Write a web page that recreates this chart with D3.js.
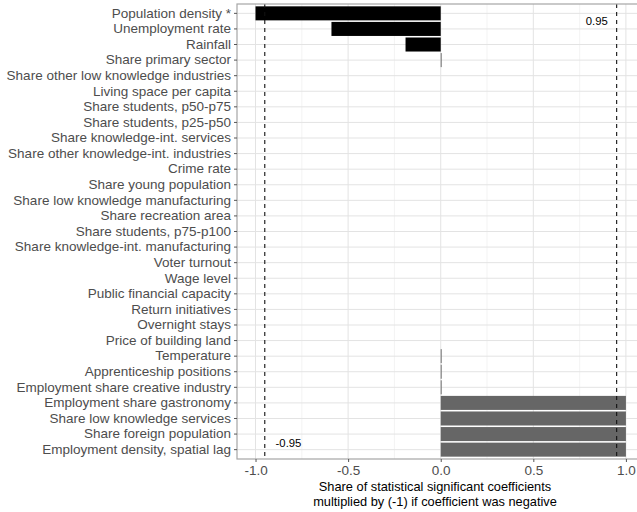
<!DOCTYPE html>
<html>
<head>
<meta charset="utf-8">
<script src="https://cdn.jsdelivr.net/npm/d3@7"></script>
<style>
  html, body { margin: 0; padding: 0; background: #fff; }
  svg { display: block; font-family: "Liberation Sans", Arial, sans-serif; }
</style>
</head>
<body>
<svg id="chart" width="637" height="512"></svg>
<script>
// ---- data ----
const categories = [
  "Population density *",
  "Unemployment rate",
  "Rainfall",
  "Share primary sector",
  "Share other low knowledge industries",
  "Living space per capita",
  "Share students, p50-p75",
  "Share students, p25-p50",
  "Share knowledge-int. services",
  "Share other knowledge-int. industries",
  "Crime rate",
  "Share young population",
  "Share low knowledge manufacturing",
  "Share recreation area",
  "Share students, p75-p100",
  "Share knowledge-int. manufacturing",
  "Voter turnout",
  "Wage level",
  "Public financial capacity",
  "Return initiatives",
  "Overnight stays",
  "Price of building land",
  "Temperature",
  "Apprenticeship positions",
  "Employment share creative industry",
  "Employment share gastronomy",
  "Share low knowledge services",
  "Share foreign population",
  "Employment density, spatial lag"
];
const values = [
  -1.0, -0.59, -0.19, 0.005,
  0, 0, 0, 0, 0, 0, 0, 0, 0, 0, 0, 0, 0, 0, 0, 0, 0, 0,
  0.005, 0.005, 0.005,
  1.0, 1.0, 1.0, 1.0
];
const xTicks = [-1.0, -0.5, 0.0, 0.5, 1.0];
const xMinorTicks = [-0.75, -0.25, 0.25, 0.75];
const thresholds = [-0.95, 0.95];
const annotations = [
  { label: "0.95",  x: 0.843, row: 0.52 },
  { label: "-0.95", x: -0.822, row: 27.6 }
];
const axisTitle = ["Share of statistical significant coefficients",
                   "multiplied by (-1) if coefficient was negative"];

// ---- layout ----
const W = 637, H = 512;
const panel = { left: 237, top: 4, bottom: 459 };
const svg = d3.select("#chart");
svg.append("rect").attr("width", W).attr("height", H).attr("fill", "#fff");

const x = d3.scaleLinear().domain([-1.1, 1.1]).range([panel.left, panel.left + (2.2 * 185.2)]);
const y = d3.scaleBand().domain(categories).range([panel.top, panel.bottom])
  .paddingInner(0.1).paddingOuter(0.15);
const yc = i => y(categories[0]) + y.bandwidth() / 2 + i * y.step();

const panelRight = x.range()[1];

// grid
const g = svg.append("g");
g.selectAll("line.minor").data(xMinorTicks).join("line")
  .attr("x1", d => x(d)).attr("x2", d => x(d))
  .attr("y1", panel.top).attr("y2", panel.bottom)
  .attr("stroke", "#efefef").attr("stroke-width", 0.7);
g.selectAll("line.hgrid").data(categories).join("line")
  .attr("x1", panel.left).attr("x2", panelRight)
  .attr("y1", d => y(d) + y.bandwidth() / 2).attr("y2", d => y(d) + y.bandwidth() / 2)
  .attr("stroke", "#e3e3e3").attr("stroke-width", 1);
g.selectAll("line.vgrid").data(xTicks).join("line")
  .attr("x1", d => x(d)).attr("x2", d => x(d))
  .attr("y1", panel.top).attr("y2", panel.bottom)
  .attr("stroke", "#e3e3e3").attr("stroke-width", 1);

// bars
svg.append("g").selectAll("rect").data(categories).join("rect")
  .attr("x", (d, i) => Math.min(x(0), x(values[i])))
  .attr("width", (d, i) => Math.abs(x(values[i]) - x(0)))
  .attr("y", d => y(d))
  .attr("height", y.bandwidth())
  .attr("fill", (d, i) => values[i] < 0 ? "#000" : "#666");

// threshold lines
svg.append("g").selectAll("line").data(thresholds).join("line")
  .attr("x1", d => x(d)).attr("x2", d => x(d))
  .attr("y1", panel.top).attr("y2", panel.bottom)
  .attr("stroke", "#111").attr("stroke-width", 1.1)
  .attr("stroke-dasharray", "4,4");

// annotations
svg.append("g").selectAll("text").data(annotations).join("text")
  .attr("x", d => x(d.x)).attr("y", d => yc(d.row))
  .attr("dy", "0.35em")
  .attr("text-anchor", "middle")
  .attr("font-size", "11.3px").attr("fill", "#000")
  .text(d => d.label);

// panel border
svg.append("rect")
  .attr("x", panel.left).attr("y", panel.top)
  .attr("width", panelRight - panel.left).attr("height", panel.bottom - panel.top)
  .attr("fill", "none").attr("stroke", "#a6a6a6").attr("stroke-width", 1.2);

// x axis
const xAxis = svg.append("g").attr("transform", `translate(0,${panel.bottom})`)
  .call(d3.axisBottom(x).tickValues(xTicks).tickFormat(d3.format(".1f")).tickSize(3).tickPadding(3));
xAxis.select(".domain").remove();
xAxis.selectAll(".tick line").attr("stroke", "#555");
xAxis.selectAll(".tick text").attr("fill", "#4d4d4d").attr("font-size", "13.5px")
  .attr("font-family", "Liberation Sans, Arial, sans-serif")
  .text(d => d3.format(".1f")(d).replace("−", "-"));

// y axis
const yAxis = svg.append("g").attr("transform", `translate(${panel.left},0)`)
  .call(d3.axisLeft(y).tickSize(3).tickPadding(3));
yAxis.select(".domain").remove();
yAxis.selectAll(".tick line").attr("stroke", "#555");
yAxis.selectAll(".tick text").attr("fill", "#4d4d4d").attr("font-size", "13.5px")
  .attr("font-family", "Liberation Sans, Arial, sans-serif");

// axis title
svg.append("g").selectAll("text").data(axisTitle).join("text")
  .attr("x", 435).attr("y", (d, i) => 490.5 + i * 15)
  .attr("text-anchor", "middle")
  .attr("font-size", "12.8px").attr("fill", "#000")
  .text(d => d);
</script>
</body>
</html>
